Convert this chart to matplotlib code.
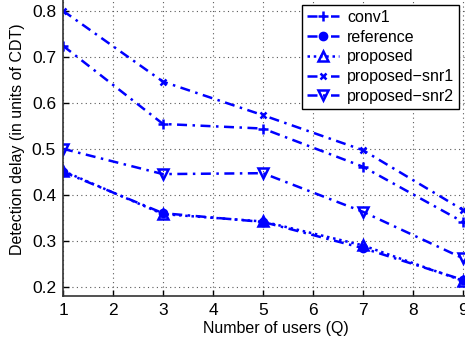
import matplotlib
matplotlib.use('Agg')
import matplotlib.pyplot as plt


users = [1, 3, 5, 7, 9]
conv1 = [0.724, 0.554, 0.544, 0.461, 0.341]
reference = [0.450, 0.360, 0.341, 0.284, 0.215]
proposed = [0.452, 0.358, 0.342, 0.290, 0.213]
proposed_snr1 = [0.800, 0.646, 0.573, 0.497, 0.367]
proposed_snr2 = [0.500, 0.445, 0.447, 0.363, 0.262]

x_ticks = list(range(1, 10))
y_ticks = [0.2, 0.3, 0.4, 0.5, 0.6, 0.7, 0.8]

plt.rcParams['font.family'] = ['Liberation Sans', 'DejaVu Sans']

W, H = 465, 339
fig = plt.figure(figsize=(W / 100, H / 100), dpi=100)

# axes run off the top and right edges, like the cropped original
left, bottom_px = 63, 296
x_lo, x_hi = 1, 9.5
y_lo, y_hi = 0.18, 0.86
px_x, px_y = 50, 460
ax = fig.add_axes([
    left / W,
    (H - bottom_px) / H,
    (x_hi - x_lo) * px_x / W,
    (y_hi - y_lo) * px_y / H,
])

blue = (0, 0, 1)
lw = 1.8
dashdot = (0, (4, 2.2, 1, 2.2))
dotted = (0, (1, 1.5))
ax.plot(users, conv1, color=blue, ls=dashdot, lw=lw, marker='+', ms=7,
        mew=1.8, label='conv1')
ax.plot(users, reference, color=blue, ls=dashdot, lw=lw, marker='o', ms=6,
        label='reference')
ax.plot(users, proposed, color=blue, ls=dotted, lw=lw, marker='^', ms=7,
        mfc='none', mew=1.8, label='proposed')
ax.plot(users, proposed_snr1, color=blue, ls=dashdot, lw=lw, marker='x',
        ms=5, mew=1.8, label='proposed\u2212snr1')
ax.plot(users, proposed_snr2, color=blue, ls=dashdot, lw=lw, marker='v',
        ms=7, mfc='none', mew=1.8, label='proposed\u2212snr2')

ax.set_xlim(x_lo, x_hi)
ax.set_ylim(y_lo, y_hi)
ax.set_xticks(x_ticks)
ax.set_yticks(y_ticks)
ax.set_yticklabels([f'{v:.1f}' for v in y_ticks])
ax.tick_params(direction='in', labelsize=12.5, length=4, width=1, pad=5)
ax.grid(True, linestyle=(0, (1, 3)), color='0.35', lw=0.8)
for s in ax.spines.values():
    s.set_linewidth(1.2)
    s.set_color('0.2')

ax.set_xlabel('Number of users (Q)', fontsize=11.5, labelpad=2)
ax.set_ylabel('Detection delay (in units of CDT)', fontsize=11.5,
              labelpad=5)

leg = ax.legend(loc='upper right', bbox_to_anchor=(459 / W, 1 - 5 / H),
                bbox_transform=fig.transFigure, borderaxespad=0,
                fontsize=11.5, fancybox=False, framealpha=1,
                handlelength=2.0, handletextpad=0.5, labelspacing=0.3,
                borderpad=0.3)
leg.get_frame().set_edgecolor('black')
leg.get_frame().set_linewidth(1.0)

fig.savefig('out.png', dpi=100)
